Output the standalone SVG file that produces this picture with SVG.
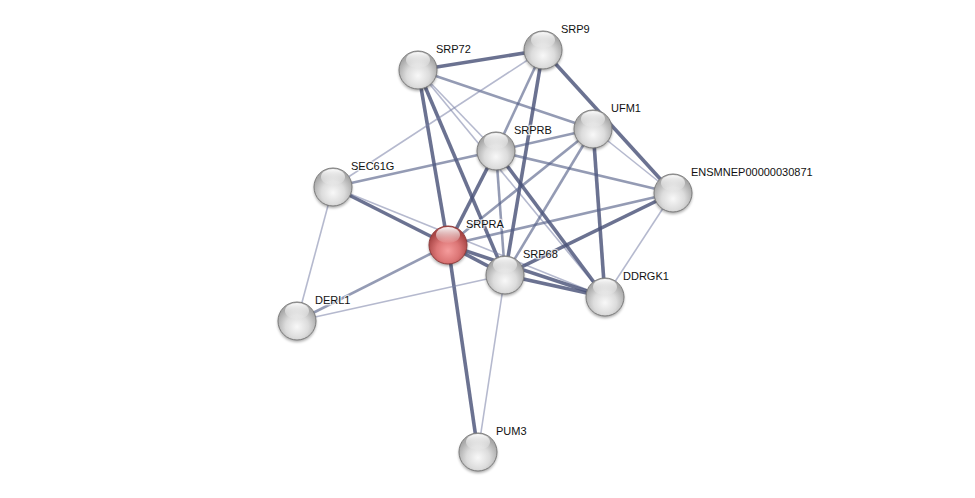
<svg xmlns="http://www.w3.org/2000/svg" width="975" height="498" viewBox="0 0 975 498">
<defs>
<radialGradient id="gw" cx="50%" cy="65%" r="55%">
<stop offset="0" stop-color="#f8f8f8"/>
<stop offset="0.55" stop-color="#dcdcdc"/>
<stop offset="1" stop-color="#a9a9a9"/>
</radialGradient>
<radialGradient id="gr" cx="50%" cy="65%" r="55%">
<stop offset="0" stop-color="#f59c9c"/>
<stop offset="0.55" stop-color="#dc7676"/>
<stop offset="1" stop-color="#a94646"/>
</radialGradient>
<linearGradient id="hl" x1="0" y1="0" x2="0" y2="1">
<stop offset="0" stop-color="#fff" stop-opacity="0.95"/>
<stop offset="1" stop-color="#fff" stop-opacity="0.05"/>
</linearGradient>
<filter id="sh" x="-50%" y="-50%" width="200%" height="200%">
<feGaussianBlur stdDeviation="1.6"/>
</filter>
</defs>
<style>
.e{fill:none;stroke-linecap:butt}
.t{stroke:#4a5379;stroke-width:3.6;stroke-opacity:0.82}
.m{stroke:#535d86;stroke-width:2.6;stroke-opacity:0.62}
.l{stroke:#7880a6;stroke-width:1.6;stroke-opacity:0.55}
.lab{font-family:"Liberation Sans",Arial,sans-serif;font-size:11px;fill:#111;stroke:#fff;stroke-width:2.5;stroke-opacity:0.7;paint-order:stroke;stroke-linejoin:round}
.sh{fill:#000;opacity:0.35;filter:url(#sh)}
.bw{fill:url(#gw);stroke:#7d7d7d;stroke-width:1}
.br{fill:url(#gr);stroke:#913c3c;stroke-width:1}
.hl{fill:url(#hl)}
</style>
<rect width="975" height="498" fill="#fff"/>
<g id="edges">
<line class="e t" x1="418" y1="70" x2="543" y2="50"/>
<line class="e m" x1="418" y1="70" x2="593" y2="129"/>
<line class="e t" x1="418" y1="70" x2="448" y2="245"/>
<line class="e t" x1="418" y1="70" x2="505" y2="275"/>
<line class="e l" x1="418" y1="70" x2="496" y2="151"/>
<line class="e l" x1="418" y1="70" x2="605" y2="297"/>
<line class="e l" x1="543" y1="50" x2="333" y2="187"/>
<line class="e m" x1="543" y1="50" x2="496" y2="151"/>
<line class="e t" x1="543" y1="50" x2="505" y2="275"/>
<line class="e t" x1="543" y1="50" x2="673" y2="193"/>
<line class="e m" x1="333" y1="187" x2="496" y2="151"/>
<line class="e m" x1="496" y1="151" x2="593" y2="129"/>
<line class="e l" x1="593" y1="129" x2="673" y2="193"/>
<line class="e t" x1="593" y1="129" x2="605" y2="297"/>
<line class="e m" x1="593" y1="129" x2="448" y2="245"/>
<line class="e m" x1="593" y1="129" x2="505" y2="275"/>
<line class="e t" x1="496" y1="151" x2="448" y2="245"/>
<line class="e m" x1="496" y1="151" x2="505" y2="275"/>
<line class="e t" x1="496" y1="151" x2="605" y2="297"/>
<line class="e m" x1="496" y1="151" x2="673" y2="193"/>
<line class="e t" x1="333" y1="187" x2="448" y2="245"/>
<line class="e l" x1="333" y1="187" x2="605" y2="297"/>
<line class="e l" x1="333" y1="187" x2="297" y2="321"/>
<line class="e m" x1="448" y1="245" x2="297" y2="321"/>
<line class="e t" x1="448" y1="245" x2="478" y2="452"/>
<line class="e t" x1="448" y1="245" x2="505" y2="275"/>
<line class="e t" x1="448" y1="245" x2="605" y2="297"/>
<line class="e m" x1="448" y1="245" x2="673" y2="193"/>
<line class="e t" x1="505" y1="275" x2="673" y2="193"/>
<line class="e t" x1="505" y1="275" x2="605" y2="297"/>
<line class="e l" x1="505" y1="275" x2="297" y2="321"/>
<line class="e l" x1="505" y1="275" x2="478" y2="452"/>
<line class="e l" x1="673" y1="193" x2="605" y2="297"/>
</g>
<g id="n-SRP72"><circle class="sh" cx="418" cy="72" r="19"/><circle class="bw" cx="418" cy="70" r="19"/><ellipse class="hl" cx="418" cy="60" rx="12" ry="8"/><text class="lab" x="436" y="53">SRP72</text></g>
<g id="n-SRP9"><circle class="sh" cx="543" cy="52" r="19"/><circle class="bw" cx="543" cy="50" r="19"/><ellipse class="hl" cx="543" cy="40" rx="12" ry="8"/><text class="lab" x="561" y="33">SRP9</text></g>
<g id="n-UFM1"><circle class="sh" cx="593" cy="131" r="19"/><circle class="bw" cx="593" cy="129" r="19"/><ellipse class="hl" cx="593" cy="119" rx="12" ry="8"/><text class="lab" x="611" y="112">UFM1</text></g>
<g id="n-SRPRB"><circle class="sh" cx="496" cy="153" r="19"/><circle class="bw" cx="496" cy="151" r="19"/><ellipse class="hl" cx="496" cy="141" rx="12" ry="8"/><text class="lab" x="514" y="134">SRPRB</text></g>
<g id="n-SEC61G"><circle class="sh" cx="333" cy="189" r="19"/><circle class="bw" cx="333" cy="187" r="19"/><ellipse class="hl" cx="333" cy="177" rx="12" ry="8"/><text class="lab" x="351" y="170">SEC61G</text></g>
<g id="n-ENSMNEP00000030871"><circle class="sh" cx="673" cy="195" r="19"/><circle class="bw" cx="673" cy="193" r="19"/><ellipse class="hl" cx="673" cy="183" rx="12" ry="8"/><text class="lab" x="691" y="176">ENSMNEP00000030871</text></g>
<g id="n-SRPRA"><circle class="sh" cx="448" cy="247" r="19"/><circle class="br" cx="448" cy="245" r="19"/><ellipse class="hl" cx="448" cy="235" rx="12" ry="8"/><text class="lab" x="466" y="228">SRPRA</text></g>
<g id="n-SRP68"><circle class="sh" cx="505" cy="277" r="19"/><circle class="bw" cx="505" cy="275" r="19"/><ellipse class="hl" cx="505" cy="265" rx="12" ry="8"/><text class="lab" x="523" y="258">SRP68</text></g>
<g id="n-DDRGK1"><circle class="sh" cx="605" cy="299" r="19"/><circle class="bw" cx="605" cy="297" r="19"/><ellipse class="hl" cx="605" cy="287" rx="12" ry="8"/><text class="lab" x="623" y="280">DDRGK1</text></g>
<g id="n-DERL1"><circle class="sh" cx="297" cy="323" r="19"/><circle class="bw" cx="297" cy="321" r="19"/><ellipse class="hl" cx="297" cy="311" rx="12" ry="8"/><text class="lab" x="315" y="304">DERL1</text></g>
<g id="n-PUM3"><circle class="sh" cx="478" cy="454" r="19"/><circle class="bw" cx="478" cy="452" r="19"/><ellipse class="hl" cx="478" cy="442" rx="12" ry="8"/><text class="lab" x="496" y="435">PUM3</text></g>
</svg>
